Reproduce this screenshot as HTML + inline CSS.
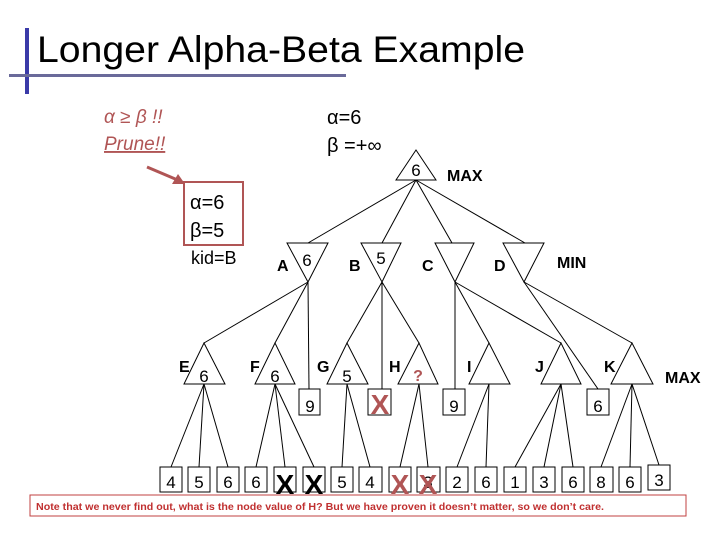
<!DOCTYPE html>
<html><head><meta charset="utf-8"><style>
body{margin:0;background:#fff}
svg{display:block}
text{font-family:"Liberation Sans",sans-serif}
</style></head><body>
<svg width="720" height="540" viewBox="0 0 720 540" xmlns="http://www.w3.org/2000/svg">
<rect x="25" y="28" width="4" height="66" fill="#3a3aa8"/>
<rect x="9" y="74" width="337" height="3" fill="#6a6a9a"/>
<text x="37" y="62" font-size="37" fill="#000" textLength="488" lengthAdjust="spacingAndGlyphs">Longer Alpha-Beta Example</text>
<text x="104" y="123" font-size="19" font-style="italic" fill="#b05555">α ≥ β !!</text>
<text x="104" y="150" font-size="19" font-style="italic" fill="#b05555" text-decoration="underline">Prune!!</text>
<line x1="147" y1="167" x2="180" y2="181" stroke="#b05555" stroke-width="3"/>
<polygon points="185,184 172,184 178,174" fill="#b05555"/>
<text x="327" y="124" font-size="20" fill="#000">α=6</text>
<text x="327" y="152" font-size="20" fill="#000">β =+∞</text>
<rect x="184" y="182" width="59" height="63" fill="none" stroke="#b05555" stroke-width="2"/>
<text x="190" y="209" font-size="20">α=6</text>
<text x="190" y="237" font-size="20">β=5</text>
<text x="191" y="264" font-size="18">kid=B</text>
<g stroke="#000" stroke-width="1" fill="none">
<polygon points="416,150 396,180 436,180"/>
<line x1="416" y1="180" x2="308" y2="243"/><line x1="416" y1="180" x2="382" y2="243"/>
<line x1="416" y1="180" x2="452" y2="243"/><line x1="416" y1="180" x2="525" y2="243"/>
<polygon points="287,243 328,243 308,282"/><polygon points="361,243 401,243 382,282"/>
<polygon points="435,243 474,243 455,282"/><polygon points="503,243 544,243 524,282"/>
<line x1="308" y1="282" x2="204" y2="343"/><line x1="308" y1="282" x2="275" y2="343"/><line x1="308" y1="282" x2="309" y2="389"/>
<line x1="382" y1="282" x2="347" y2="343"/><line x1="382" y1="282" x2="382" y2="389"/><line x1="382" y1="282" x2="419" y2="343"/>
<line x1="455" y1="282" x2="455" y2="389"/><line x1="455" y1="282" x2="489" y2="343"/><line x1="455" y1="282" x2="561" y2="343"/>
<line x1="524" y1="282" x2="598" y2="389"/><line x1="524" y1="282" x2="632" y2="343"/>
<polygon points="204,343 184,384 225,384"/><polygon points="275,343 255,384 295,384"/>
<polygon points="347,343 327,384 368,384"/><polygon points="419,343 398,384 438,384"/>
<polygon points="489,343 469,384 510,384"/><polygon points="561,343 541,384 581,384"/>
<polygon points="632,343 611,384 653,384"/>
<rect x="299" y="389" width="21" height="26"/><rect x="368" y="389" width="23" height="26"/>
<rect x="443" y="389" width="22" height="26"/><rect x="587" y="389" width="22" height="26"/>
<line x1="204" y1="384" x2="171" y2="467"/><line x1="204" y1="384" x2="199" y2="467"/><line x1="204" y1="384" x2="228" y2="467"/>
<line x1="275" y1="384" x2="256" y2="467"/><line x1="275" y1="384" x2="285" y2="467"/><line x1="275" y1="384" x2="314" y2="467"/>
<line x1="347" y1="384" x2="342" y2="467"/><line x1="347" y1="384" x2="370" y2="467"/>
<line x1="419" y1="384" x2="400" y2="467"/><line x1="419" y1="384" x2="428" y2="467"/>
<line x1="489" y1="384" x2="457" y2="467"/><line x1="489" y1="384" x2="486" y2="467"/>
<line x1="561" y1="384" x2="515" y2="467"/><line x1="561" y1="384" x2="544" y2="467"/><line x1="561" y1="384" x2="573" y2="467"/>
<line x1="632" y1="384" x2="601" y2="467"/><line x1="632" y1="384" x2="630" y2="467"/><line x1="632" y1="384" x2="659" y2="465"/>
<rect x="160" y="467" width="22" height="25"/><rect x="188" y="467" width="22" height="25"/>
<rect x="217" y="467" width="22" height="25"/><rect x="245" y="467" width="22" height="25"/>
<rect x="274" y="467" width="22" height="25"/><rect x="303" y="467" width="22" height="25"/>
<rect x="331" y="467" width="22" height="25"/><rect x="359" y="467" width="23" height="25"/>
<rect x="389" y="467" width="22" height="25"/><rect x="417" y="467" width="23" height="25"/>
<rect x="446" y="467" width="22" height="25"/><rect x="475" y="467" width="22" height="25"/>
<rect x="504" y="467" width="22" height="25"/><rect x="533" y="467" width="22" height="25"/>
<rect x="562" y="467" width="22" height="25"/><rect x="590" y="467" width="23" height="25"/>
<rect x="619" y="467" width="22" height="25"/><rect x="648" y="465" width="22" height="25"/>
</g>
<g font-size="17" text-anchor="middle">
<text x="416" y="176">6</text>
<text x="307" y="266">6</text><text x="381" y="264">5</text>
<text x="204" y="382">6</text><text x="275" y="382">6</text><text x="347" y="382">5</text>
<text x="310" y="412">9</text><text x="454" y="412">9</text><text x="598" y="412">6</text>
<text x="171" y="488">4</text><text x="199" y="488">5</text><text x="228" y="488">6</text><text x="256" y="488">6</text>
<text x="342" y="488">5</text><text x="370" y="488">4</text><text x="428" y="488">3</text>
<text x="457" y="488">2</text><text x="486" y="488">6</text><text x="515" y="488">1</text><text x="544" y="488">3</text>
<text x="573" y="488">6</text><text x="601" y="488">8</text><text x="630" y="488">6</text><text x="659" y="486">3</text>
</g>
<g font-size="16" font-weight="bold">
<text x="447" y="181">MAX</text><text x="557" y="268">MIN</text><text x="665" y="383">MAX</text>
</g>
<g font-size="16" font-weight="bold">
<text x="277" y="271">A</text><text x="349" y="271">B</text><text x="422" y="271">C</text><text x="494" y="271">D</text>
<text x="179" y="372">E</text><text x="250" y="372">F</text><text x="317" y="372">G</text><text x="389" y="372">H</text>
<text x="467" y="372">I</text><text x="535" y="372">J</text><text x="604" y="372">K</text>
</g>
<text x="418" y="381" font-size="16" font-weight="bold" fill="#b05555" text-anchor="middle">?</text>
<g font-size="28" font-weight="bold" text-anchor="middle">
<text x="285" y="494">X</text><text x="314" y="494">X</text>
<text x="380" y="414" fill="#b05555">X</text>
<text x="400" y="494" fill="#b05555">X</text><text x="428" y="494" fill="#b05555">X</text>
</g>
<rect x="30" y="495" width="656" height="21" fill="#fff" stroke="#c04040" stroke-width="1"/>
<text x="36" y="510" font-size="10" font-weight="bold" fill="#c03030" textLength="568" lengthAdjust="spacingAndGlyphs">Note that we never find out, what is the node value of H? But we have proven it doesn’t matter, so we don’t care.</text>
</svg>
</body></html>
